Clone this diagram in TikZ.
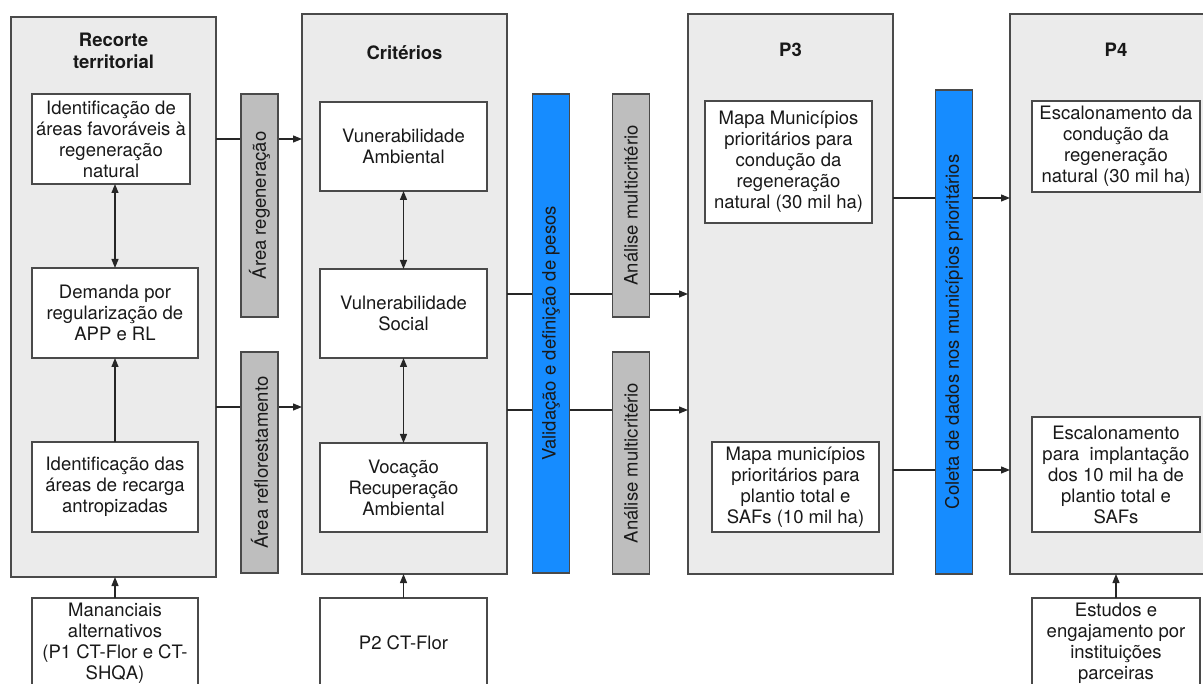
\documentclass[tikz,border=0pt]{standalone}
\usepackage{fontspec}
\setmainfont{TeX Gyre Heros}
\usetikzlibrary{arrows.meta, positioning}
\usetikzlibrary{calc}

\definecolor{panelfill}{HTML}{EBEBEB}
\definecolor{stripfill}{HTML}{BEBEBE}
\definecolor{bluefill}{HTML}{168CFF}
\definecolor{edge}{HTML}{4A4A4A}

\begin{document}
\begin{tikzpicture}[x=1pt, y=-1pt,
    every node/.style={font=\fontsize{18.5}{21}\selectfont, text=black!90},
    panel/.style={draw=edge, line width=1.2pt, fill=panelfill, inner sep=0pt, outer sep=0pt, minimum width=205pt, minimum height=560pt},
    box/.style={draw=edge, line width=1.2pt, fill=white, align=center, inner sep=0pt, outer sep=0pt, minimum width=166pt, minimum height=90pt},
    strip/.style={draw=edge, line width=1.2pt, fill=stripfill, rotate=90, inner sep=0pt, outer sep=0pt, minimum height=37pt},
    bluestrip/.style={strip, fill=bluefill},
    title/.style={font=\fontsize{18.5}{22}\selectfont\bfseries, align=center},
    flow/.style={draw=black!85, line width=1.2pt, -{Triangle[length=9pt,width=7pt]}},
    both/.style={flow, {Triangle[length=9pt,width=7pt]}-{Triangle[length=9pt,width=7pt]}}]
    \useasboundingbox (0,0) rectangle (1203,684);

    % Define the heights of the horizontal connectors
    \coordinate (lregen) at (0,139);
    \coordinate (lrefl) at (0,407);
    \coordinate (lmultia) at (0,294);
    \coordinate (lmultib) at (0,410);
    \coordinate (lcoletaa) at (0,198);
    \coordinate (lcoletab) at (0,470);

    % Draw the four panels
    \node[panel] (recorte) at (113.5,297) {};
    \node[panel] (crit) at (404.5,294) {};
    \node[panel] (pthree) at (790.5,294) {};
    \node[panel, minimum width=212pt] (pfour) at (1116,294) {};

    % Label the panels
    \node[title] (trecorte) at (113.5,51) {Recorte\\territorial};
    \node[title] (tcrit) at (404.5,53) {Critérios};
    \node[title] (tpthree) at (790.5,50) {P3};
    \node[title] (tpfour) at (1116,50) {P4};

    % Boxes of the first panel
    \node[box, minimum width=158pt] (idfav) at (111,139) {Identificação de\\áreas favoráveis à\\regeneração\\natural};
    \node[box] (demanda) at (115,313) {Demanda por\\regularização de\\APP e RL};
    \node[box] (idrec) at (115,487) {Identificação das\\áreas de recarga\\antropizadas};

    % Boxes of the criteria panel
    \node[box, minimum width=167pt, minimum height=89pt] (vamb) at (403.5,146.5) {Vunerabilidade\\Ambiental};
    \node[box, minimum width=167pt, minimum height=89pt] (vsoc) at (403.5,313.5) {Vulnerabilidade\\Social};
    \node[box, minimum width=167pt, minimum height=89pt] (vrec) at (403.5,487.5) {Vocação\\Recuperação\\Ambiental};

    % Boxes of P3 and P4
    \node[box, minimum width=167pt, minimum height=122pt] (mapreg) at (788.5,162) {Mapa Municípios\\prioritários para\\condução da\\regeneração\\natural (30 mil ha)};
    \node[box, minimum width=167pt] (mapplant) at (795.5,487) {Mapa municípios\\prioritários para\\plantio total e\\SAFs (10 mil ha)};
    \node[box, minimum width=168pt, minimum height=91pt] (escreg) at (1116,146.5) {Escalonamento da\\condução da\\regeneração\\natural (30 mil ha)};
    \node[box, minimum width=168pt, minimum height=115pt] (escplant) at (1116,474.5) {Escalonamento\\para~~implantação\\dos 10 mil ha de\\plantio total e\\SAFs};

    % Boxes below the panels
    \node[box] (manan) at (115,643) {Mananciais\\alternativos\\(P1 CT-Flor e CT-\\SHQA)};
    \node[box, minimum width=167pt] (ptwo) at (403.5,643) {P2 CT-Flor};
    \node[box, minimum width=168pt] (estudos) at (1116,643) {Estudos e\\engajamento por\\instituições\\parceiras};

    % Arrows inside and into the panels
    \draw[both] (demanda.north) -- (demanda.north |- idfav.south);
    \draw[flow] (idrec) -- (demanda);
    \draw[flow] (manan) -- (manan |- recorte.south);
    \draw[both] (vamb) -- (vsoc);
    \draw[both] (vsoc) -- (vrec);
    \draw[flow] (ptwo) -- (ptwo |- crit.south);
    \draw[flow] (estudos) -- (estudos |- pfour.south);

    % Arrows between the panels
    \draw[flow] (recorte.east |- lregen) -- (crit.west |- lregen);
    \draw[flow] (recorte.east |- lrefl) -- (crit.west |- lrefl);
    \draw[flow] (crit.east |- lmultia) -- (pthree.west |- lmultia);
    \draw[flow] (crit.east |- lmultib) -- (pthree.west |- lmultib);
    \draw[flow] (pthree.east |- lcoletaa) -- (pfour.west |- lcoletaa);
    \draw[flow] (pthree.east |- lcoletab) -- (pfour.west |- lcoletab);

    % Strips laid over the arrows
    \node[strip, minimum width=223pt] (arearegen) at (259.5,205.5) {Área regeneração};
    \node[strip, minimum width=221pt] (arearefl) at (259.5,462.5) {Área reflorestamento};
    \node[bluestrip, minimum width=479pt] (valid) at (551,333.5) {Validação e definição de pesos};
    \node[strip, minimum width=223pt] (multia) at (631,205.5) {Análise multicritério};
    \node[strip, minimum width=222pt] (multib) at (631,463) {Análise multicritério};
    \node[bluestrip, minimum width=484pt] (coleta) at (954,332) {Coleta de dados nos municípios prioritários};
\end{tikzpicture}
\end{document}
